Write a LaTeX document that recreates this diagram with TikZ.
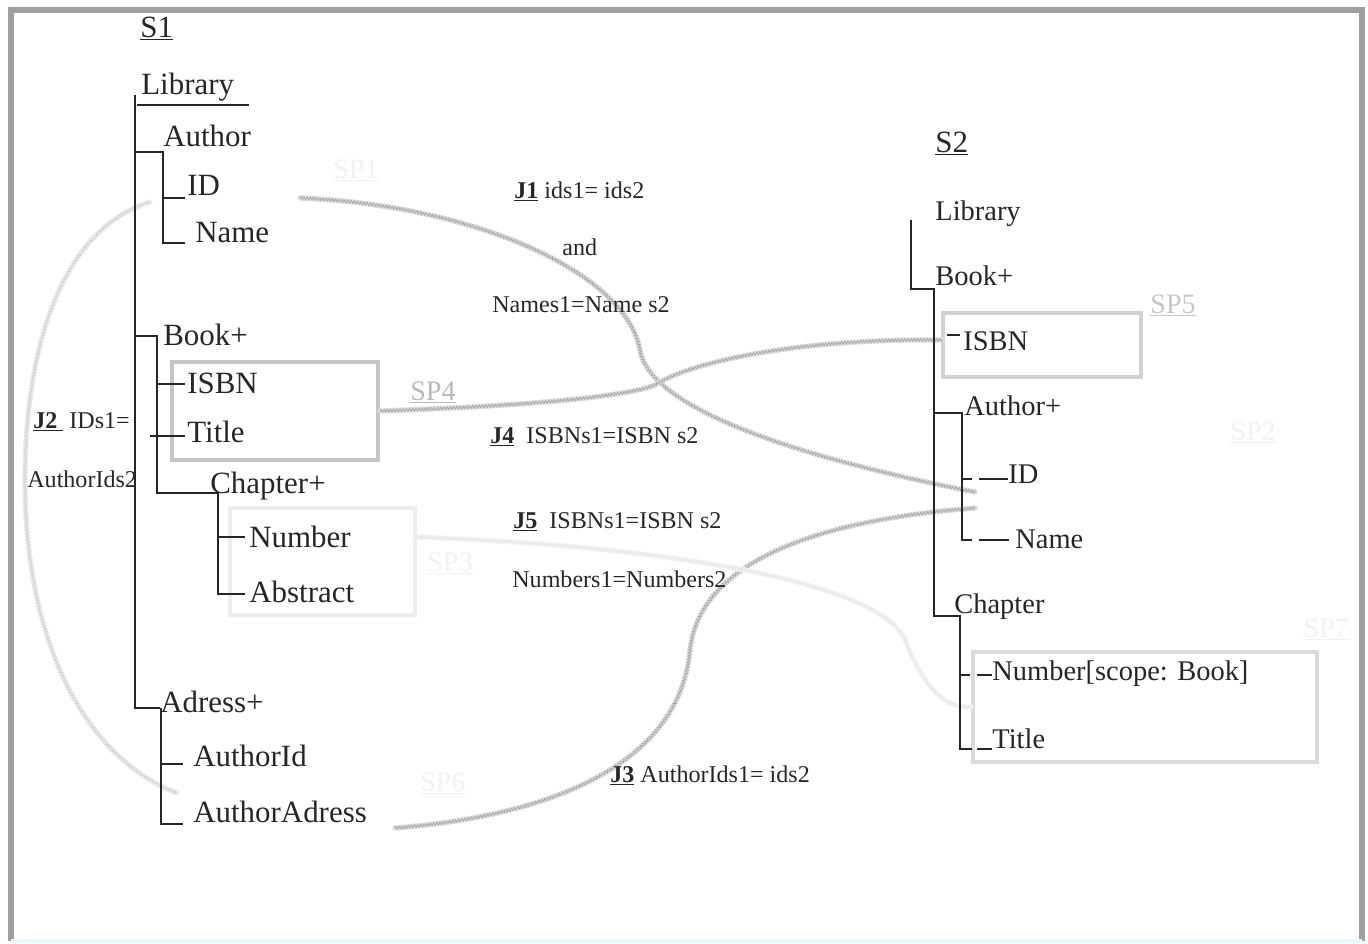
\documentclass[tikz,border=0pt]{standalone}
\usepackage{fontspec}
\setmainfont{Liberation Serif}
\usetikzlibrary{decorations.pathmorphing}

\begin{document}
\begin{tikzpicture}[x=0.02cm,y=-0.02cm,
  treeline/.style={draw=black!85, line width=1pt},
  big/.style={anchor=base west, inner sep=0pt, font=\fontsize{17.6}{20}\selectfont, text=black!85},
  mid/.style={anchor=base west, inner sep=0pt, font=\fontsize{16.2}{18}\selectfont, text=black!85},
  small/.style={anchor=base west, inner sep=0pt, font=\fontsize{13.7}{16}\selectfont, text=black!85},
  spbox/.style={draw=gray!40, line width=2.5pt, inner sep=0pt},
  splabel/.style={anchor=base west, inner sep=0pt, font=\fontsize{16}{18}\selectfont},
  joinline/.style={draw=gray!28, line width=3pt, line cap=round,
    postaction={draw=gray!70, line width=0.4pt, decorate,
      decoration={zigzag, segment length=1.8pt, amplitude=0.8pt}}},
  faintline/.style={draw=gray!15, line width=3pt, line cap=round,
    postaction={draw=gray!40, line width=0.3pt, decorate,
      decoration={zigzag, segment length=1.8pt, amplitude=0.8pt}}},
  palestline/.style={draw=gray!9, line width=3pt, line cap=round,
    postaction={draw=gray!22, line width=0.3pt, decorate,
      decoration={zigzag, segment length=1.8pt, amplitude=0.8pt}}},
  frame/.style={draw=gray!75, line width=3pt},
]
\useasboundingbox (0,0) rectangle (1368,943);

% outer frame
\draw[frame] (11,941) -- (11,10) -- (1362,10) -- (1362,941);
\draw[draw=cyan!8, line width=2pt] (11,941) -- (1362,941);

% scope boxes
\node[spbox, draw=gray!45, minimum width=4.12cm, minimum height=1.96cm] (sp4) at (275,411) {};
\node[spbox, draw=gray!14, minimum width=3.7cm, minimum height=2.14cm] (sp3) at (322.5,561.5) {};
\node[spbox, draw=gray!35, minimum width=3.96cm, minimum height=1.28cm] (sp5) at (1042,345) {};
\node[spbox, draw=gray!28, minimum width=6.88cm, minimum height=2.2cm] (sp7) at (1145,707) {};

% scope labels
\node[splabel, text=gray!55] (sp4l) at (410,400) {\underline{SP4}};
\node[splabel, text=gray!45] (sp5l) at (1150,313) {\underline{SP5}};
\node[splabel, text=gray!10] (sp1l) at (333,178) {\underline{SP1}};
\node[splabel, text=gray!10] (sp3l) at (427,571) {\underline{SP3}};
\node[splabel, text=gray!10] (sp6l) at (420,791) {\underline{SP6}};
\node[splabel, text=gray!10] (sp2l) at (1230,440) {\underline{SP2}};
\node[splabel, text=gray!10] (sp7l) at (1303,637) {\underline{SP7}};

% join end points
\coordinate (j1s) at (300,198);
\coordinate (j1e) at (975,492);
\coordinate (j2s) at (150,202);
\coordinate (j2e) at (177,793);
\coordinate (j3s) at (395,828);
\coordinate (j3e) at (975,508);
\coordinate (j4e) at (943,340);
\coordinate (j5s) at (415,537);

% join connectors
\draw[joinline] (j1s) .. controls (470,205) and (625,270) .. (640,350)
                      .. controls (648,400) and (760,450) .. (j1e);
\draw[joinline] (sp4.east) .. controls (550,405) and (630,395) .. (655,385)
                           .. controls (690,362) and (800,338) .. (j4e);
\draw[faintline] (j2s) .. controls (60,230) and (25,350) .. (25,480)
                       .. controls (25,650) and (90,760) .. (j2e);
\draw[joinline] (j3s) .. controls (560,815) and (680,760) .. (690,650)
                      .. controls (700,560) and (820,520) .. (j3e);
\draw[palestline] (j5s) .. controls (650,545) and (880,580) .. (905,640)
                        .. controls (925,690) and (945,708) .. (sp7.west);

% schema S1
\node[big] (s1) at (140,37) {\underline{S1}};
\node[big] (lib1) at (141,94) {Library};
\node[big] (author1) at (163,146) {Author};
\node[big] (id1) at (187,195) {ID};
\node[big] (name1) at (195,242) {Name};
\node[big] (book1) at (163,345) {Book+};
\node[big] (isbn1) at (187,393) {ISBN};
\node[big] (title1) at (187,442) {Title};
\node[big] (chap1) at (210,493) {Chapter+};
\node[big] (num1) at (249,547) {Number};
\node[big] (abs1) at (249,602) {Abstract};
\node[big] (adr1) at (160,712) {Adress+};
\node[big] (aid1) at (193,766) {AuthorId};
\node[big] (aadr1) at (193,822) {AuthorAdress};

\draw[treeline] (137,105) -- (249,105);
\draw[treeline] (135,95) -- (135,708) -- (160,708);
\draw[treeline] (135,152) -- (163,152) -- (163,243) -- (185,243);
\draw[treeline] (163,198) -- (185,198);
\draw[treeline] (135,336) -- (157,336) -- (157,493) -- (218,493) -- (218,594) -- (245,594);
\draw[treeline] (157,384) -- (185,384);
\draw[treeline] (150,436) -- (185,436);
\draw[treeline] (218,537) -- (245,537);
\draw[treeline] (161,708) -- (161,824) -- (183,824);
\draw[treeline] (161,764) -- (183,764);

% schema S2
\node[big] (s2) at (935,152) {\underline{S2}};
\node[mid] (lib2) at (935,220) {Library};
\node[mid] (book2) at (935,285) {Book+};
\node[mid] (isbn2) at (963,350) {ISBN};
\node[mid] (author2) at (964,415) {Author+};
\node[mid] (id2) at (1008,483) {ID};
\node[mid] (name2) at (1015,548) {Name};
\node[mid] (chap2) at (954,613) {Chapter};
\node[mid] (num2) at (992,680) {Number[scope: Book]};
\node[mid] (title2) at (992,748) {Title};

\draw[treeline] (911,220) -- (911,289) -- (934,289) -- (934,616) -- (960,616) -- (960,749) -- (972,749);
\draw[treeline] (977,749) -- (992,749);
\draw[treeline] (947,335) -- (960,335);
\draw[treeline] (934,413) -- (962,413) -- (962,540) -- (972,540);
\draw[treeline] (979,540) -- (1009,540);
\draw[treeline] (962,479) -- (972,479);
\draw[treeline] (979,479) -- (1008,479);
\draw[treeline] (960,675) -- (970,675);
\draw[treeline] (977,675) -- (992,675);

% join conditions
\node[small] (j1) at (514,198) {\underline{\textbf{J1}} ids1= ids2};
\node[small] (j1and) at (562,255) {and};
\node[small] (j1b) at (492,312) {Names1=Name s2};
\node[small] (j4) at (490,443) {\underline{\textbf{J4}}\ \ ISBNs1=ISBN s2};
\node[small] (j5) at (513,528) {\underline{\textbf{J5}}\ \ ISBNs1=ISBN s2};
\node[small] (j5b) at (512,587) {Numbers1=Numbers2};
\node[small] (j3) at (610,782) {\underline{\textbf{J3}} AuthorIds1= ids2};
\node[small] (j2) at (33,428) {\underline{\textbf{J2}\ } IDs1=};
\node[small] (j2b) at (27,487) {AuthorIds2};
\end{tikzpicture}
\end{document}
